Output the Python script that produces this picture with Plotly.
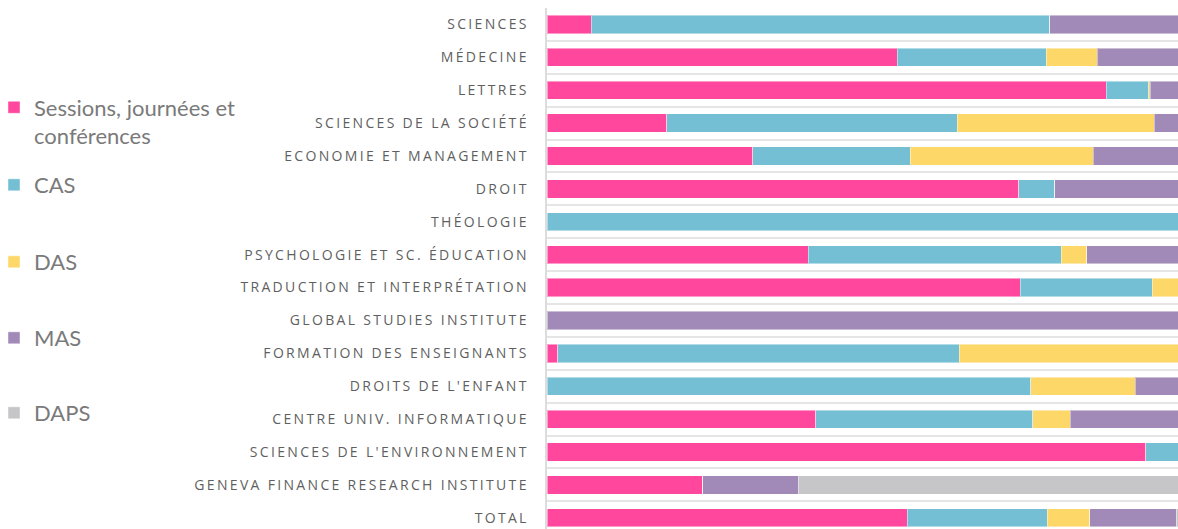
import plotly.graph_objects as go

categories = [
    "SCIENCES", "MÉDECINE", "LETTRES", "SCIENCES DE LA SOCIÉTÉ",
    "ECONOMIE ET MANAGEMENT", "DROIT", "THÉOLOGIE",
    "PSYCHOLOGIE ET SC. ÉDUCATION", "TRADUCTION ET INTERPRÉTATION",
    "GLOBAL STUDIES INSTITUTE", "FORMATION DES ENSEIGNANTS",
    "DROITS DE L'ENFANT", "CENTRE UNIV. INFORMATIQUE",
    "SCIENCES DE L'ENVIRONNEMENT", "GENEVA FINANCE RESEARCH INSTITUTE", "TOTAL",
]

# shares in percent (100% stacked)
sessions = [7.0, 55.5, 88.6, 19.0, 32.6, 74.8, 0, 41.4, 75.0, 0, 1.7, 0, 42.6, 94.9, 24.7, 57.1]
cas      = [72.7, 23.6, 6.8, 46.0, 25.0, 5.7, 100, 40.1, 20.9, 0, 63.6, 76.7, 34.4, 5.1, 0, 22.2]
das      = [0, 8.1, 0.2, 31.2, 29.0, 0, 0, 4.0, 4.1, 0, 34.7, 16.5, 5.9, 0, 0, 6.7]
mas      = [20.3, 12.8, 4.4, 3.8, 13.4, 19.5, 0, 14.5, 0, 100, 0, 6.8, 17.1, 0, 15.2, 13.7]
daps     = [0, 0, 0, 0, 0, 0, 0, 0, 0, 0, 0, 0, 0, 0, 60.1, 0.3]

series_names = ["Sessions, journées et<br>conférences", "CAS", "DAS", "MAS", "DAPS"]
series_values = [sessions, cas, das, mas, daps]
colors = ["#FF479E", "#74BFD4", "#FDD868", "#A18AB8", "#C6C6C8"]
legend_ids = ["legend", "legend2", "legend3", "legend4", "legend5"]
legend_centers_px = [122, 185, 262, 338, 413]

W, H = 1178, 529

def spaced(s):
    thin = "\u2009"
    return thin.join(list(s))

fig = go.Figure()
for name, vals, col, lid in zip(series_names, series_values, colors, legend_ids):
    fig.add_trace(go.Bar(
        y=categories, x=vals, name=name, orientation="h",
        marker=dict(color=col, line=dict(color="rgba(255,255,255,0.45)", width=1)),
        legend=lid, hoverinfo="name+x",
    ))

legend_font = dict(family="Lato, 'Open Sans', sans-serif", size=22, color="#7a7a7a")
layout_legends = {}
for lid, cy in zip(legend_ids, legend_centers_px):
    layout_legends[lid] = dict(
        xref="container", yref="container", x=0, y=1 - cy / H,
        xanchor="left", yanchor="middle", font=legend_font,
        bgcolor="rgba(0,0,0,0)", valign="top", itemclick=False,
        indentation=-6,
    )

fig.update_layout(
    width=W, height=H,
    barmode="stack", bargap=0.444,
    margin=dict(l=547, r=0, t=7.5, b=0, autoexpand=False),
    plot_bgcolor="white", paper_bgcolor="white",
    showlegend=True,
    xaxis=dict(range=[0, 100], showgrid=False, zeroline=False,
               showticklabels=False, showline=False, fixedrange=True),
    yaxis=dict(
        type="category", categoryorder="array", categoryarray=categories,
        range=[15.34, -0.5],
        tickmode="array", tickvals=categories,
        ticktext=[spaced(c) for c in categories],
        tickson="boundaries", ticks="",
        showgrid=True, gridcolor="#e5e5e5", gridwidth=2,
        showline=True, linecolor="#dcdcdc", linewidth=1.5,
        ticklabelstandoff=16,
        tickfont=dict(family="'Open Sans', sans-serif", size=14, color="#5f5f5f"),
        fixedrange=True,
    ),
    **layout_legends,
)

fig.write_html(
    "out.html",
    config={"displayModeBar": False},
    post_script="document.body.style.margin='0';document.body.style.overflow='hidden';",
)
